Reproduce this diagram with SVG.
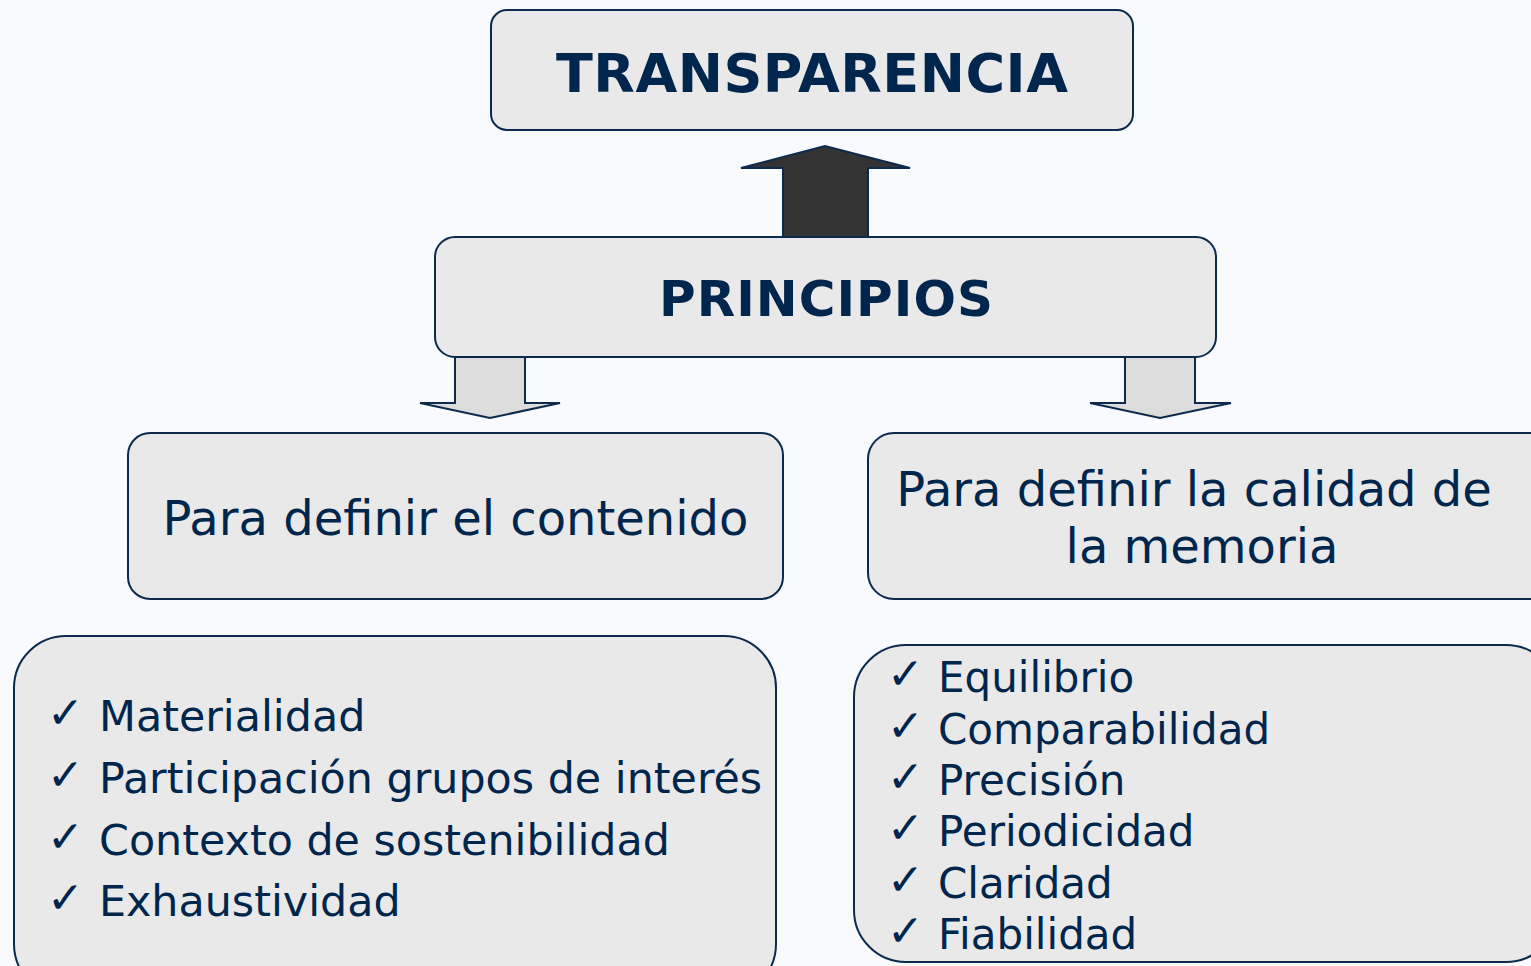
<svg xmlns="http://www.w3.org/2000/svg" width="1531" height="966" viewBox="0 0 1531 966">
<defs>
<style>
.box{fill:#e9e9e9;stroke:#0b2a4d;stroke-width:2}
.t{font-family:"DejaVu Sans","Verdana",sans-serif;fill:#00264d}
.b{font-weight:bold}
.ck{font-family:"DejaVu Sans",sans-serif;fill:#00264d;font-size:44px;font-weight:bold}
.up{fill:#333333;stroke:#0b2a4d;stroke-width:2;stroke-linejoin:miter}
.down{fill:#dddddd;stroke:#0b2a4d;stroke-width:2}
</style>
</defs>
<rect width="1531" height="966" fill="#f8fafd"/>
<g id="connectors">
<path class="up" d="M783,237 L783,168 L741,168 L825,146 L910,168 L868,168 L868,237 Z"/>
<path class="down" d="M455,357 L455,403 L420,403 L490,418 L560,403 L525,403 L525,357"/>
<path class="down" d="M1125,357 L1125,403 L1090,403 L1160,418 L1231,403 L1195,403 L1195,357"/>
</g>
<g id="transparencia">
<rect class="box" x="491" y="10" width="642" height="120" rx="16"/>
<text class="t b" x="812" y="92" font-size="54" text-anchor="middle" textLength="512">TRANSPARENCIA</text>
</g>
<g id="principios">
<rect class="box" x="435" y="237" width="781" height="120" rx="20"/>
<text class="t b" x="826" y="316" font-size="50" text-anchor="middle" textLength="334">PRINCIPIOS</text>
</g>
<g id="contenido">
<rect class="box" x="128" y="433" width="655" height="166" rx="22"/>
<text class="t" x="455.5" y="535" font-size="48" text-anchor="middle">Para definir el contenido</text>
</g>
<g id="calidad">
<rect class="box" x="868" y="433" width="690" height="166" rx="26"/>
<text class="t" x="1194" y="506" font-size="48" text-anchor="middle">Para definir la calidad de</text>
<text class="t" x="1202" y="563" font-size="48" text-anchor="middle">la memoria</text>
</g>
<g id="lista-contenido">
<rect class="box" x="14" y="636" width="762" height="360" rx="52"/>
<g class="ck">
<text x="47" y="728">✓</text>
<text x="47" y="790">✓</text>
<text x="47" y="852">✓</text>
<text x="47" y="913">✓</text>
</g>
<g class="t" font-size="42.8">
<text x="99" y="731">Materialidad</text>
<text x="99" y="793">Participación grupos de interés</text>
<text x="99" y="855">Contexto de sostenibilidad</text>
<text x="99" y="916">Exhaustividad</text>
</g>
</g>
<g id="lista-calidad">
<rect class="box" x="854" y="645" width="704" height="317" rx="52"/>
<g class="ck">
<text x="887" y="689">✓</text>
<text x="887" y="741">✓</text>
<text x="887" y="792">✓</text>
<text x="887" y="843">✓</text>
<text x="887" y="895">✓</text>
<text x="887" y="946">✓</text>
</g>
<g class="t" font-size="42">
<text x="938" y="692">Equilibrio</text>
<text x="938" y="744">Comparabilidad</text>
<text x="938" y="795">Precisión</text>
<text x="938" y="846">Periodicidad</text>
<text x="938" y="898">Claridad</text>
<text x="938" y="949">Fiabilidad</text>
</g>
</g>
</svg>
